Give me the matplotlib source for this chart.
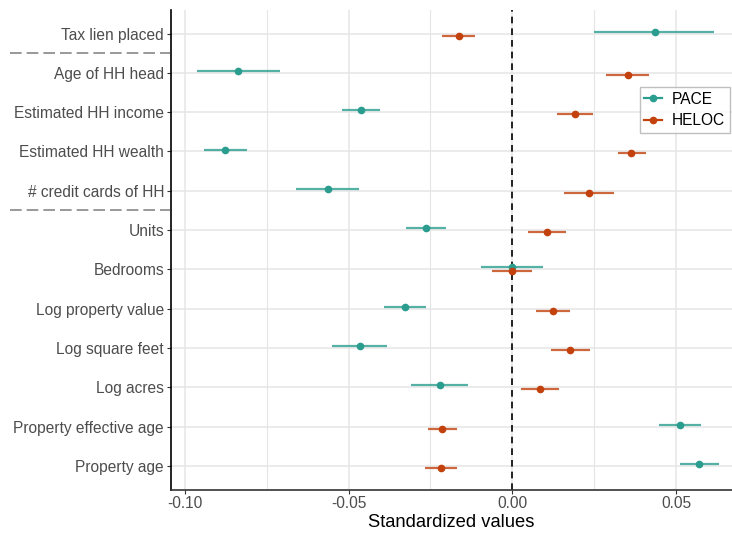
import matplotlib
matplotlib.use("Agg")
import matplotlib.pyplot as plt
from matplotlib.transforms import blended_transform_factory
from matplotlib.lines import Line2D

plt.rcParams['font.family'] = ['Liberation Sans', 'DejaVu Sans']

categories = ["Tax lien placed", "Age of HH head", "Estimated HH income",
              "Estimated HH wealth", "# credit cards of HH", "Units", "Bedrooms",
              "Log property value", "Log square feet", "Log acres",
              "Property effective age", "Property age"]

pace_est = [0.0435, -0.0836, -0.0463, -0.0876, -0.0563, -0.0263, 0.0000,
            -0.0329, -0.0466, -0.0221, 0.0512, 0.0571]
pace_lo = [0.0251, -0.0962, -0.0521, -0.0942, -0.0659, -0.0323, -0.0095,
           -0.0393, -0.0549, -0.0308, 0.0447, 0.0513]
pace_hi = [0.0617, -0.0710, -0.0405, -0.0810, -0.0467, -0.0203, 0.0094,
           -0.0264, -0.0382, -0.0134, 0.0576, 0.0630]

heloc_est = [-0.0164, 0.0352, 0.0192, 0.0364, 0.0234, 0.0105, 0.0000,
             0.0124, 0.0177, 0.0086, -0.0213, -0.0217]
heloc_lo = [-0.0213, 0.0287, 0.0138, 0.0323, 0.0157, 0.0048, -0.0061,
            0.0071, 0.0117, 0.0027, -0.0256, -0.0266]
heloc_hi = [-0.0115, 0.0418, 0.0248, 0.0407, 0.0311, 0.0165, 0.0061,
            0.0176, 0.0236, 0.0143, -0.0168, -0.0168]

xticks = [-0.10, -0.05, 0.00, 0.05]
xticklabels = ["-0.10", "-0.05", "0.00", "0.05"]
minor_xticks = [-0.075, -0.025, 0.025]
separators_after = [0, 4]

pace_col = "#2a9d8f"
heloc_col = "#c2410c"

fig = plt.figure(figsize=(7.32, 5.34), dpi=100)
ax = fig.add_axes([171/732, 1-489.5/534, 1-171/732, (489.5-10)/534])

n = len(categories)
ypos = list(range(n))
dodge = 0.05

for xt in xticks:
    ax.axvline(xt, color="#e5e5e5", lw=1.1, zorder=0)
for xt in minor_xticks:
    ax.axvline(xt, color="#e5e5e5", lw=0.8, zorder=0)
for y in ypos:
    ax.axhline(y, color="#e5e5e5", lw=1.1, zorder=0)

ax.axvline(0, color="black", lw=1.2, ls=(0, (4, 3)), zorder=1)

for est, lo, hi, col, off, lab in [(pace_est, pace_lo, pace_hi, pace_col, -dodge, "PACE"),
                                    (heloc_est, heloc_lo, heloc_hi, heloc_col, dodge, "HELOC")]:
    ys = [y + off for y in ypos]
    ax.hlines(ys, lo, hi, color=col, lw=1.6, alpha=0.8, zorder=2)
    ax.plot(est, ys, 'o', color=col, ms=4.5, zorder=3, label=lab)

ax.set_xlim(-0.1042, 0.0671)
ax.set_ylim(n - 0.4, -0.6)
ax.set_yticks(ypos)
ax.set_yticklabels(categories, fontsize=11.2, color="#4d4d4d")
ax.set_xticks(xticks)
ax.set_xticklabels(xticklabels, fontsize=11.2, color="#4d4d4d")
ax.tick_params(axis='both', length=3, width=0.8, color="#333333", pad=2)
ax.set_xlabel("Standardized values", fontsize=13.2, labelpad=2)

for s in ["top", "right"]:
    ax.spines[s].set_visible(False)
ax.spines["left"].set_color("black")
ax.spines["left"].set_linewidth(1.2)
ax.spines["bottom"].set_color("#333333")
ax.spines["bottom"].set_linewidth(1.2)

trans = blended_transform_factory(fig.transFigure, ax.transData)
for s in separators_after:
    ln = Line2D([10/732, 170/732], [s + 0.5, s + 0.5], transform=trans,
                color="#888888", lw=1.2, ls=(0, (7, 3)), clip_on=False)
    fig.add_artist(ln)

handles = [Line2D([0], [0], color=pace_col, lw=1.6, marker='o', ms=4.5),
           Line2D([0], [0], color=heloc_col, lw=1.6, marker='o', ms=4.5)]
leg = ax.legend(handles, ["PACE", "HELOC"], loc="upper right",
                bbox_to_anchor=(0.9964, 0.839), borderaxespad=0, fontsize=11.2,
                frameon=True, fancybox=False, handlelength=1.15, handletextpad=0.65,
                borderpad=0.3, labelspacing=0.4)
leg.get_frame().set_edgecolor("#b0b0b0")
leg.get_frame().set_linewidth(1.0)

fig.savefig("out.png", dpi=100)
